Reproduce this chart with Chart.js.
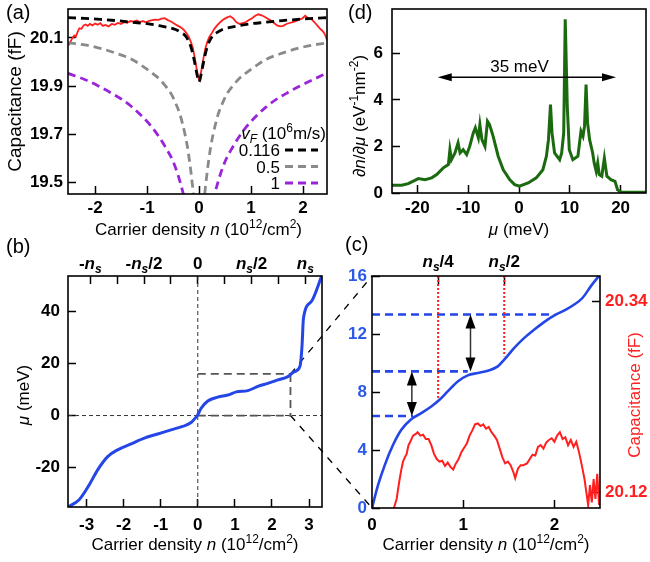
<!DOCTYPE html>
<html>
<head>
<meta charset="utf-8">
<script src="https://cdn.jsdelivr.net/npm/chart.js@4.4.1/dist/chart.umd.min.js"></script>
<style>
  body { margin: 0; background: #fff; width: 650px; height: 562px; overflow: hidden; position: relative; }
  canvas { position: absolute; }
</style>
</head>
<body>
<canvas id="overlay" width="650" height="562" style="left:0px;top:0px"></canvas>
<canvas id="chartA" width="330" height="250" style="left:0px;top:0px"></canvas>
<canvas id="chartD" width="320" height="250" style="left:330px;top:0px"></canvas>
<canvas id="chartB" width="340" height="332" style="left:0px;top:230px"></canvas>
<canvas id="chartC" width="310" height="332" style="left:340px;top:230px"></canvas>
<script>
// ---------- data: panel (a) capacitance vs density ----------
const densMeasured = [-2.51,-2.47,-2.44,-2.40,-2.37,-2.33,-2.30,-2.26,-2.22,-2.18,-2.14,-2.10,-2.05,-2.00,-1.95,-1.90,-1.85,-1.80,-1.74,-1.68,
  -1.62,-1.56,-1.50,-1.44,-1.38,-1.32,-1.26,-1.20,-1.14,-1.08,-1.02,-0.96,-0.90,-0.84,-0.78,-0.72,-0.66,-0.60,-0.54,-0.48,
  -0.42,-0.36,-0.30,-0.25,-0.20,-0.16,-0.12,-0.08,-0.05,-0.02,0.00,0.02,0.05,0.08,0.12,0.16,0.20,0.25,0.30,0.36,
  0.42,0.48,0.54,0.60,0.66,0.72,0.78,0.84,0.90,0.96,1.02,1.08,1.14,1.20,1.26,1.32,1.38,1.44,1.50,1.56,
  1.62,1.68,1.74,1.80,1.86,1.92,1.98,2.04,2.10,2.16,2.22,2.28,2.32,2.36,2.40,2.43,2.46];
const capMeasured = [20.070,20.085,20.098,20.110,20.105,20.128,20.140,20.138,20.152,20.156,20.150,20.158,20.152,20.160,20.155,20.161,20.150,20.154,20.148,20.158,
  20.155,20.162,20.158,20.166,20.163,20.170,20.168,20.172,20.166,20.170,20.165,20.171,20.174,20.176,20.175,20.180,20.182,20.174,20.168,20.160,
  20.152,20.145,20.135,20.122,20.105,20.085,20.058,20.015,19.975,19.940,19.928,19.938,19.972,20.010,20.055,20.085,20.105,20.122,20.140,20.155,
  20.168,20.178,20.185,20.190,20.180,20.165,20.158,20.162,20.166,20.174,20.182,20.192,20.198,20.194,20.188,20.180,20.172,20.162,20.152,20.148,
  20.150,20.158,20.162,20.166,20.170,20.176,20.180,20.192,20.182,20.178,20.165,20.150,20.140,20.132,20.122,20.110,20.092];

const densVF0116 = [-2.52,-2.2,-1.9,-1.6,-1.28,-1.0,-0.77,-0.6,-0.45,-0.35,-0.256,-0.16,-0.096,-0.045,-0.013,0,
  0.013,0.045,0.096,0.16,0.256,0.35,0.45,0.6,0.77,1.0,1.28,1.6,1.9,2.2,2.46];
const capVF0116 = [20.184,20.181,20.177,20.172,20.165,20.159,20.151,20.144,20.135,20.123,20.107,20.065,20.010,19.954,19.924,19.918,
  19.924,19.954,20.010,20.065,20.107,20.123,20.135,20.144,20.151,20.159,20.165,20.172,20.177,20.181,20.184];

const densVF05 = [-2.52,-2.2,-1.92,-1.6,-1.28,-1.1,-0.9,-0.75,-0.64,-0.53,-0.45,-0.38,-0.32,-0.27,-0.224,-0.19,-0.16,-0.13,-0.109,-0.09];
const capVF05 = [20.080,20.071,20.058,20.037,20.010,19.985,19.954,19.927,19.899,19.866,19.829,19.792,19.746,19.700,19.649,19.600,19.551,19.495,19.454,19.40];
const densVF05R = [0.09,0.109,0.13,0.16,0.19,0.224,0.27,0.32,0.38,0.45,0.53,0.64,0.75,0.9,1.1,1.28,1.6,1.92,2.2,2.46];
const capVF05R = [19.40,19.454,19.495,19.551,19.600,19.649,19.700,19.746,19.792,19.829,19.866,19.899,19.927,19.954,19.985,20.010,20.037,20.058,20.071,20.079];

const densVF1 = [-2.52,-2.2,-1.92,-1.7,-1.47,-1.28,-1.09,-0.92,-0.77,-0.64,-0.51,-0.41,-0.32,-0.27];
const capVF1 = [19.953,19.928,19.899,19.873,19.843,19.812,19.774,19.734,19.690,19.645,19.593,19.535,19.468,19.42];
const densVF1R = [0.27,0.32,0.41,0.51,0.64,0.77,0.92,1.09,1.28,1.47,1.7,1.92,2.2,2.46];
const capVF1R = [19.42,19.468,19.535,19.593,19.645,19.690,19.734,19.774,19.812,19.843,19.873,19.899,19.928,19.955];

const legendLabelsA = ['0.116', '0.5', '1'];
const xTicksA = [-2, -1, 0, 1, 2];
const xLabelsA = ['-2', '-1', '0', '1', '2'];
const yTicksA = [19.5, 19.7, 19.9, 20.1];
const yLabelsA = ['19.5', '19.7', '19.9', '20.1'];

// ---------- data: panel (d) density of states ----------
const muD = [-25,-23.1,-21.8,-19.8,-18.5,-17.2,-16.2,-14.9,-13.9,-13.6,-13.3,-12.6,-12.0,-11.6,-11.0,-10.3,-9.7,-9.0,-8.6,-8.0,
  -7.7,-7.3,-6.7,-6.2,-5.8,-5.1,-4.1,-3.1,-1.8,-0.85,0.1,1.8,3.4,4.7,5.4,5.8,6.2,6.5,7.0,8.0,
  8.4,8.8,9.1,9.5,9.9,10.6,11.6,12.2,12.6,12.9,13.2,13.5,13.9,14.5,14.8,15.2,15.5,15.8,16.3,16.8,
  17.3,18.1,18.9,19.4,20.1,25];
const dosD = [0.33,0.33,0.40,0.62,0.57,0.65,0.79,1.08,1.22,1.86,1.43,1.72,2.15,1.72,1.86,1.65,2.0,2.58,2.80,2.37,
  2.94,2.29,2.0,3.08,2.94,2.44,1.58,1.0,0.57,0.36,0.29,0.43,0.65,1.0,1.58,2.29,3.8,2.58,1.72,1.43,
  1.72,2.58,7.46,3.73,1.86,1.43,1.58,2.65,2.44,2.87,4.66,3.01,2.29,1.72,1.29,0.93,1.29,0.79,0.72,1.5,
  0.72,0.57,0.5,0.14,0.04,0.03];
const xTicksD = [-20, -10, 0, 10, 20];
const xLabelsD = ['-20', '-10', '0', '10', '20'];
const yTicksD = [0, 2, 4, 6];
const yLabelsD = ['0', '2', '4', '6'];
const bandwidthD = [-16, 19.1];   // double arrow ends (meV)
const bandwidthLevelD = 4.97;

// ---------- data: panel (b) chemical potential ----------
const densB = [-3.5,-3.2,-2.93,-2.70,-2.43,-2.16,-1.80,-1.44,-1.08,-0.72,-0.41,-0.18,-0.07,0,0.09,0.27,0.54,0.81,1.04,1.35,
  1.62,1.89,2.16,2.43,2.61,2.76,2.81,2.85,3.06,3.35];
const muB = [-35.2,-32.4,-26.7,-20.9,-15.8,-13.2,-10.9,-8.7,-7.1,-5.5,-4.2,-2.7,-1.0,0.3,2.8,5.6,7.1,7.9,9.1,9.6,
  11.2,12.4,13.7,15.0,16.9,19.1,26.5,37.4,43.8,54];
const ns = 2.9;
const xTicksB = [-3, -2, -1, 0, 1, 2, 3];
const xLabelsB = ['-3', '-2', '-1', '0', '1', '2', '3'];
const yTicksB = [-20, 0, 20, 40];
const yLabelsB = ['-20', '0', '20', '40'];
const topTicksB = [-1, -0.75, -0.5, -0.25, 0, 0.25, 0.5, 0.75, 1].map(f => f * ns);
const topLabelValsB = [-ns, -ns / 2, 0, ns / 2, ns];
const topLabelsB = ['-n_s', '-n_s/2', '0', 'n_s/2', 'n_s'];
const zoomN = 2.5, zoomMu = 16;

// ---------- data: panel (c) zoom ----------
const densC = [0,0.066,0.14,0.23,0.32,0.43,0.54,0.65,0.74,0.83,0.94,1.05,1.16,1.27,1.38,1.45,1.56,1.67,1.78,1.89,
  2.0,2.11,2.21,2.31,2.40,2.5];
const muC = [0,1.57,2.96,4.34,5.38,6.12,6.54,7.0,7.46,8.04,8.73,9.15,9.31,9.47,9.77,10.23,11.04,11.73,12.31,12.84,
  13.28,13.63,14.0,14.5,15.3,16.1];
const densCapC = [0.24,0.27,0.30,0.32,0.34,0.36,0.38,0.40,0.42,0.45,0.48,0.50,0.53,0.56,0.59,0.62,0.65,0.68,0.71,0.74,
  0.77,0.80,0.83,0.86,0.89,0.92,0.95,0.98,1.01,1.04,1.07,1.10,1.13,1.16,1.19,1.22,1.25,1.28,1.31,1.34,
  1.37,1.40,1.43,1.46,1.49,1.52,1.55,1.57,1.60,1.63,1.66,1.70,1.73,1.76,1.79,1.82,1.85,1.88,1.91,1.94,
  1.97,2.00,2.03,2.06,2.09,2.12,2.15,2.18,2.21,2.24,2.27,2.30,2.33,2.35,2.37,2.39,2.41,2.43,2.45,2.47,2.49];
const capC = [20.1016,20.112,20.133,20.145,20.155,20.160,20.164,20.174,20.178,20.185,20.187,20.189,20.185,20.186,20.181,20.181,20.174,20.164,20.158,20.155,
  20.156,20.150,20.154,20.149,20.146,20.153,20.158,20.166,20.171,20.176,20.185,20.191,20.198,20.199,20.196,20.198,20.193,20.195,20.189,20.185,
  20.180,20.170,20.160,20.153,20.155,20.151,20.143,20.136,20.147,20.151,20.151,20.153,20.158,20.163,20.162,20.172,20.174,20.170,20.177,20.180,
  20.182,20.178,20.185,20.189,20.181,20.183,20.174,20.180,20.172,20.178,20.166,20.151,20.135,20.120,20.105,20.128,20.108,20.135,20.112,20.141,20.105];
const xTicksC = [0, 1, 2];
const xLabelsC = ['0', '1', '2'];
const yTicksC = [0, 4, 8, 12, 16];
const yLabelsC = ['0', '4', '8', '12', '16'];
const capTicksC = [20.12, 20.34];
const capLabelsC = ['20.12', '20.34'];
const topTicksC = [ns / 4, ns / 2];
const topLabelsC = ['n_s/4', 'n_s/2'];
const plateauMuC = [6.35, 9.42, 13.35];     // blue dashed levels
const plateauEndC = [0.45, 1.05, 2.0];
const dotFromC = [7.57, 10.46];             // red dotted lines at ns/4, ns/2
const arrowXC = [0.437, 1.08];
const arrowFromC = [6.35, 9.42];
const arrowToC = [9.42, 13.35];

// ---------- styling ----------
const FONT = '"Liberation Sans", Arial, Helvetica, sans-serif';
const BLUE = '#2446e6', BLUE_TXT = '#2b5ae8', RED = '#ff1f1f', GREEN = '#1b6a10';
Chart.defaults.font.family = FONT;
Chart.defaults.font.size = 17;
Chart.defaults.color = '#000';
Chart.defaults.animation = false;
Chart.defaults.responsive = false;
Chart.defaults.devicePixelRatio = 1;
Chart.defaults.plugins.legend.display = false;
Chart.defaults.plugins.tooltip.enabled = false;
Chart.defaults.elements.point.radius = 0;

const zip = (xs, ys) => xs.map((x, i) => ({ x: x, y: ys[i] }));

// inward ticks via negative tick length, fixed axis size
function axis(o) {
  return {
    type: 'linear', position: o.pos, min: o.min, max: o.max, bounds: 'data',
    grid: { drawOnChartArea: false, tickLength: -8, tickWidth: 1.5, tickColor: '#000' },
    border: { display: false },
    ticks: {
      display: !!o.labels, padding: o.pad || 0, color: o.color || '#000', autoSkip: false, maxRotation: 0,
      font: { weight: 'bold', size: 17 },
      callback: (v, i) => o.labels ? o.labels[i] : ''
    },
    afterBuildTicks: s => { s.ticks = o.ticks.map(v => ({ value: v })); },
    afterFit: s => {
      if (s.isHorizontal()) s.height = o.size; else s.width = o.size;
      s.paddingLeft = s.paddingRight = s.paddingTop = s.paddingBottom = 0;
    }
  };
}

// text with italic / superscript / subscript pieces: [text, flags] flags: i=italic u=sup d=sub
function richText(ctx, x, y, parts, o) {
  o = o || {};
  const size = o.size || 17;
  const font = f => (f.includes('i') ? 'italic ' : '') + (o.bold ? 'bold ' : '') +
    ((f.includes('u') || f.includes('d')) ? Math.round(size * 0.7) : size) + 'px ' + FONT;
  ctx.save();
  ctx.translate(x, y);
  if (o.rotate) ctx.rotate(o.rotate);
  ctx.fillStyle = o.color || '#000';
  ctx.textBaseline = 'alphabetic';
  ctx.textAlign = 'left';
  let w = 0;
  parts.forEach(([t, f = '']) => { ctx.font = font(f); w += ctx.measureText(t).width; });
  let cx = o.align === 'left' ? 0 : o.align === 'right' ? -w : -w / 2;
  parts.forEach(([t, f = '']) => {
    ctx.font = font(f);
    const dy = f.includes('u') ? -size * 0.4 : f.includes('d') ? size * 0.25 : 0;
    ctx.fillText(t, cx, dy);
    cx += ctx.measureText(t).width;
  });
  ctx.restore();
}

function nsParts(label) {
  const out = [];
  const bits = label.split('n_s');
  bits.forEach((chunk, i) => {
    if (chunk) out.push([chunk, '']);
    if (i < bits.length - 1) { out.push(['n', 'i']); out.push(['s', 'id']); }
  });
  return out;
}

const densityTitle = [['Carrier density '], ['n', 'i'], [' (10'], ['12', 'u'], ['/cm'], ['2', 'u'], [')']];

function drawFrame(chart) {
  const ctx = chart.ctx, a = chart.chartArea;
  ctx.save();
  ctx.strokeStyle = '#000';
  ctx.lineWidth = 1.6;
  ctx.strokeRect(a.left, a.top, a.right - a.left, a.bottom - a.top);
  ctx.restore();
}

function line(ctx, x1, y1, x2, y2, style) {
  ctx.save();
  ctx.strokeStyle = style.color;
  ctx.lineWidth = style.width;
  ctx.setLineDash(style.dash || []);
  ctx.beginPath();
  ctx.moveTo(x1, y1);
  ctx.lineTo(x2, y2);
  ctx.stroke();
  ctx.restore();
}

function doubleArrow(ctx, x1, y1, x2, y2, len, half, color, width) {
  const ang = Math.atan2(y2 - y1, x2 - x1);
  const c = Math.cos(ang), s = Math.sin(ang);
  ctx.save();
  ctx.strokeStyle = color; ctx.fillStyle = '#000'; ctx.lineWidth = width;
  ctx.beginPath();
  ctx.moveTo(x1 + c * len * 0.8, y1 + s * len * 0.8);
  ctx.lineTo(x2 - c * len * 0.8, y2 - s * len * 0.8);
  ctx.stroke();
  [[x1, y1, 1], [x2, y2, -1]].forEach(([px, py, d]) => {
    ctx.beginPath();
    ctx.moveTo(px, py);
    ctx.lineTo(px + d * c * len - s * half, py + d * s * len + c * half);
    ctx.lineTo(px + d * c * len + s * half, py + d * s * len - c * half);
    ctx.closePath();
    ctx.fill();
  });
  ctx.restore();
}

// ---------- panel (a) ----------
const theoryA = [
  { label: legendLabelsA[0], color: '#000', pts: [zip(densVF0116, capVF0116)] },
  { label: legendLabelsA[1], color: '#8a8a8a', pts: [zip(densVF05, capVF05), zip(densVF05R, capVF05R)] },
  { label: legendLabelsA[2], color: '#9a24d8', pts: [zip(densVF1, capVF1), zip(densVF1R, capVF1R)] }
];
const dsA = [];
theoryA.forEach(t => t.pts.forEach(p => dsA.push({
  data: p, borderColor: t.color, borderWidth: 2.8, borderDash: [8, 5], cubicInterpolationMode: 'monotone'
})));
dsA.push({ data: zip(densMeasured, capMeasured), borderColor: RED, borderWidth: 1.8, tension: 0 });

const chartA = new Chart(document.getElementById('chartA'), {
  type: 'line',
  data: { datasets: dsA },
  options: {
    layout: { padding: { top: 9, right: 3, left: 0, bottom: 0 } },
    scales: {
      x: axis({ pos: 'bottom', min: -2.52, max: 2.46, ticks: xTicksA, labels: xLabelsA, size: 56, pad: 12 }),
      y: axis({ pos: 'left', min: 19.453, max: 20.22, ticks: yTicksA, labels: yLabelsA, size: 68, pad: 13 })
    }
  },
  plugins: [{
    id: 'decorA',
    afterDraw(chart) {
      const ctx = chart.ctx, a = chart.chartArea;
      drawFrame(chart);
      richText(ctx, 6, 19, [['(a)']], { size: 20, align: 'left' });
      richText(ctx, 21, (a.top + a.bottom) / 2, [['Capacitance (fF)']], { size: 19, rotate: -Math.PI / 2 });
      richText(ctx, (a.left + a.right) / 2 + 1, 235, densityTitle);
      // legend
      richText(ctx, 326, 139, [['v', 'i'], ['F', 'id'], [' (10'], ['6', 'u'], ['m/s)']], { align: 'right' });
      theoryA.forEach((t, i) => {
        const base = 156 + 16.5 * i;
        richText(ctx, 280, base, [[t.label]], { align: 'right' });
        line(ctx, 285, base - 6, 318, base - 6, { color: t.color, width: 2.8, dash: [8, 5] });
      });
    }
  }]
});

// ---------- panel (d) ----------
const chartD = new Chart(document.getElementById('chartD'), {
  type: 'line',
  data: { datasets: [{ data: zip(muD, dosD), borderColor: GREEN, borderWidth: 3, tension: 0 }] },
  options: {
    layout: { padding: { top: 9, right: 4, left: 0, bottom: 0 } },
    scales: {
      x: axis({ pos: 'bottom', min: -25, max: 25, ticks: xTicksD, labels: xLabelsD, size: 57, pad: 13 }),
      y: axis({ pos: 'left', min: 0, max: 7.9, ticks: yTicksD, labels: yLabelsD, size: 62, pad: 17 })
    }
  },
  plugins: [{
    id: 'decorD',
    afterDraw(chart) {
      const ctx = chart.ctx, a = chart.chartArea, sx = chart.scales.x, sy = chart.scales.y;
      drawFrame(chart);
      richText(ctx, 18, 19, [['(d)']], { size: 20, align: 'left' });
      richText(ctx, 35, 116, [['∂'], ['n', 'i'], ['/∂'], ['μ', 'i'], [' (eV'], ['-1', 'u'], ['nm'], ['-2', 'u'], [')']], { rotate: -Math.PI / 2 });
      richText(ctx, (a.left + a.right) / 2, 235, [['μ', 'i'], [' (meV)']]);
      const yA = sy.getPixelForValue(bandwidthLevelD);
      doubleArrow(ctx, sx.getPixelForValue(bandwidthD[0]), yA, sx.getPixelForValue(bandwidthD[1]), yA, 14, 4, '#000', 1.3);
      richText(ctx, sx.getPixelForValue(0.1), yA - 5, [['35 meV']]);
    }
  }]
});

// ---------- panel (b) ----------
const chartB = new Chart(document.getElementById('chartB'), {
  type: 'line',
  data: { datasets: [{ data: zip(densB, muB), borderColor: BLUE, borderWidth: 3, cubicInterpolationMode: 'monotone' }] },
  options: {
    layout: { padding: { top: 0, right: 18, left: 0, bottom: 0 } },
    scales: {
      x: axis({ pos: 'bottom', min: -3.5, max: 3.35, ticks: xTicksB, labels: xLabelsB, size: 55, pad: 16 }),
      x2: axis({ pos: 'top', min: -3.5, max: 3.35, ticks: topTicksB, labels: null, size: 46 }),
      y: axis({ pos: 'left', min: -35.2, max: 53.7, ticks: yTicksB, labels: yLabelsB, size: 68, pad: 16 })
    }
  },
  plugins: [{
    id: 'decorB',
    beforeDatasetsDraw(chart) {
      const ctx = chart.ctx, a = chart.chartArea, sx = chart.scales.x, sy = chart.scales.y;
      const x0 = sx.getPixelForValue(0), y0 = sy.getPixelForValue(0);
      const xz = sx.getPixelForValue(zoomN), yz = sy.getPixelForValue(zoomMu);
      const thin = { color: '#333', width: 1, dash: [4, 3] };
      line(ctx, x0, a.top, x0, a.bottom, thin);
      line(ctx, a.left, y0, a.right, y0, thin);
      const box = { color: '#555', width: 1.8, dash: [8, 5] };
      line(ctx, x0, yz, xz, yz, box);
      line(ctx, xz, yz, xz, y0, box);
      line(ctx, x0, y0, xz, y0, box);
    },
    afterDraw(chart) {
      const ctx = chart.ctx, a = chart.chartArea, s2 = chart.scales.x2;
      drawFrame(chart);
      richText(ctx, 6, 23, [['(b)']], { size: 20, align: 'left' });
      topLabelsB.forEach((lab, i) => richText(ctx, s2.getPixelForValue(topLabelValsB[i]), 39, nsParts(lab), { bold: true }));
      richText(ctx, 29, 165, [['μ', 'i'], [' (meV)']], { rotate: -Math.PI / 2 });
      richText(ctx, (a.left + a.right) / 2, 320, densityTitle);
    }
  }]
});

// ---------- panel (c) ----------
const chartC = new Chart(document.getElementById('chartC'), {
  type: 'line',
  data: { datasets: [
    { data: zip(densC, muC), borderColor: BLUE, borderWidth: 2.6, cubicInterpolationMode: 'monotone', yAxisID: 'y' },
    { data: zip(densCapC, capC), borderColor: RED, borderWidth: 2, tension: 0, yAxisID: 'y2' }
  ] },
  options: {
    layout: { padding: 0 },
    scales: {
      x: axis({ pos: 'bottom', min: 0, max: 2.5, ticks: xTicksC, labels: xLabelsC, size: 54, pad: 15 }),
      x2: axis({ pos: 'top', min: 0, max: 2.5, ticks: topTicksC, labels: null, size: 46 }),
      y: axis({ pos: 'left', min: 0, max: 16, ticks: yTicksC, labels: yLabelsC, size: 32, pad: 13, color: BLUE_TXT }),
      y2: axis({ pos: 'right', min: 20.1016, max: 20.369, ticks: capTicksC, labels: capLabelsC, size: 50, pad: 13, color: RED })
    }
  },
  plugins: [{
    id: 'decorC',
    beforeDatasetsDraw(chart) {
      const ctx = chart.ctx, a = chart.chartArea, sx = chart.scales.x, sy = chart.scales.y;
      plateauMuC.forEach((m, i) => line(ctx, a.left, sy.getPixelForValue(m), sx.getPixelForValue(plateauEndC[i]), sy.getPixelForValue(m),
        { color: BLUE, width: 2.6, dash: [8, 5] }));
      topTicksC.forEach((v, i) => line(ctx, sx.getPixelForValue(v), a.top, sx.getPixelForValue(v), sy.getPixelForValue(dotFromC[i]),
        { color: RED, width: 2, dash: [2, 2] }));
    },
    afterDraw(chart) {
      const ctx = chart.ctx, a = chart.chartArea, sx = chart.scales.x, sy = chart.scales.y, s2 = chart.scales.x2;
      arrowXC.forEach((v, i) => doubleArrow(ctx, sx.getPixelForValue(v), sy.getPixelForValue(arrowFromC[i]),
        sx.getPixelForValue(v), sy.getPixelForValue(arrowToC[i]), 14, 5, '#333', 1.5));
      drawFrame(chart);
      richText(ctx, 5, 21, [['(c)']], { size: 20, align: 'left' });
      topLabelsC.forEach((lab, i) => richText(ctx, s2.getPixelForValue(topTicksC[i]), 37, nsParts(lab), { bold: true }));
      richText(ctx, 300, 165, [['Capacitance (fF)']], { rotate: -Math.PI / 2, color: RED });
      richText(ctx, (a.left + a.right) / 2, 320, densityTitle);
    }
  }]
});

// ---------- zoom connectors between (b) and (c) ----------
(function () {
  const ov = document.getElementById('overlay').getContext('2d');
  const bx = chartB.scales.x, by = chartB.scales.y, ca = chartC.chartArea;
  const bTop = 230, cLeft = 340, cTop = 230;
  const style = { color: '#000', width: 1.3, dash: [7, 7] };
  line(ov, bx.getPixelForValue(zoomN), by.getPixelForValue(zoomMu) + bTop, ca.left + cLeft, ca.top + cTop, style);
  line(ov, bx.getPixelForValue(zoomN), by.getPixelForValue(0) + bTop, ca.left + cLeft, ca.bottom + cTop, style);
})();
</script>
</body>
</html>
